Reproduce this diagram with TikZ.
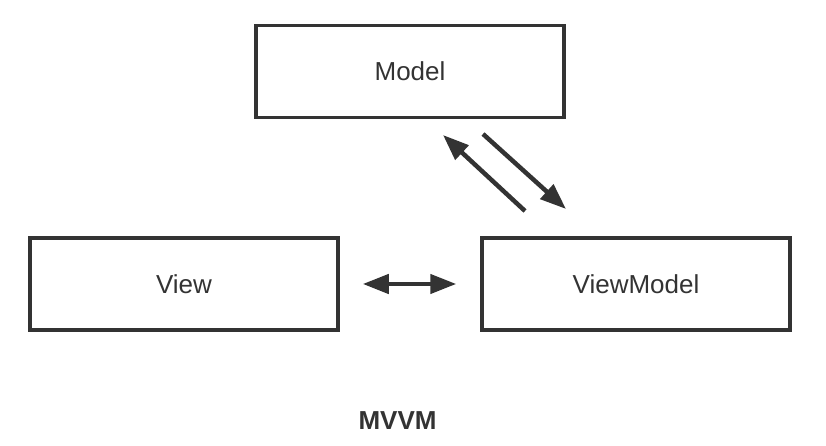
\documentclass[tikz,border=0pt]{standalone}
\usepackage{fontspec}
\setmainfont{Liberation Sans}
\definecolor{ink}{RGB}{51,51,51}
\usetikzlibrary{arrows.meta,positioning}
\tikzset{
  box/.style={draw=ink, line width=3.5pt, minimum width=308pt, minimum height=92pt,
              inner sep=0pt, font=\fontsize{26}{30}\selectfont, text=ink},
  flow/.style={ink, line width=4.5pt},
  caption/.style={font=\bfseries\fontsize{26}{30}\selectfont, text=ink},
  >={Triangle[length=26pt,width=19pt]},
}
\begin{document}
\begin{tikzpicture}[x=1pt, y=1pt]
        \useasboundingbox (0,0) rectangle (826,446);
        \node[box] (model) at (410,374.5) {Model};
        \node[box] (view)  at (184,162)   {View};
        \node[box] (vm)    at (636,162)   {ViewModel};
        \draw[flow, <->, shorten <=23pt, shorten >=24pt] (view.east) -- (vm.west);
        \coordinate (mtip)  at (443,311);
        \coordinate (mtail) at (525,235);
        \coordinate (vtail) at (483,312);
        \coordinate (vtip)  at (566,237);
        \draw[flow, ->] (mtail) -- (mtip);
        \draw[flow, ->] (vtail) -- (vtip);
        \node[caption] (title) at (397.5,25.5) {MVVM};
\end{tikzpicture}
\end{document}
